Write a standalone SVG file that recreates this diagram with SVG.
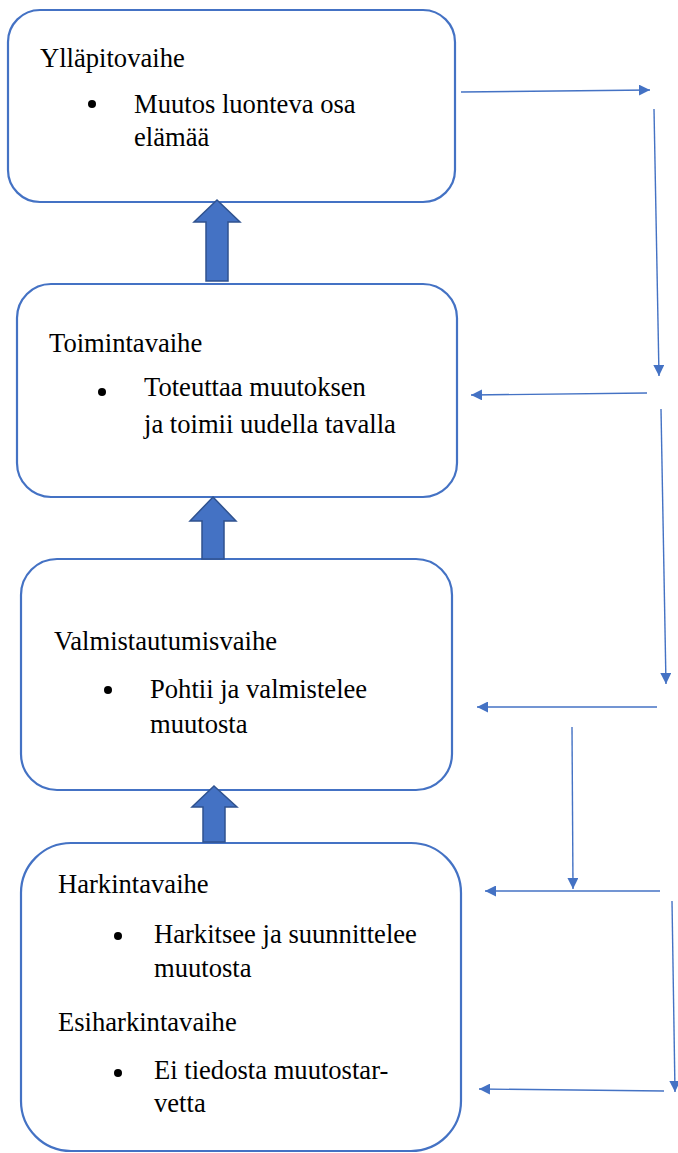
<svg xmlns="http://www.w3.org/2000/svg" width="678" height="1153" viewBox="0 0 678 1153">
<defs>
<marker id="ah" viewBox="0 0 10 10" refX="10" refY="5" markerWidth="11" markerHeight="11" markerUnits="userSpaceOnUse" orient="auto"><path d="M0,0 L10,5 L0,10 Z" fill="#4472C4"/></marker>
</defs>
<style>
.box{fill:#fff;stroke:#4472C4;stroke-width:2.2}
.blk{fill:#4472C4;stroke:#2F528F;stroke-width:1.5}
.c{stroke:#4472C4;stroke-width:1.4;fill:none;marker-end:url(#ah)}
text{font-family:'Liberation Serif','Times New Roman',serif;font-size:26.6px;fill:#000}
</style>
<rect width="678" height="1153" fill="#fff"/>
<g id="n1">
<rect class="box" x="8" y="10" width="447" height="192" rx="32"/>
<text x="40" y="67">Ylläpitovaihe</text>
<circle cx="92" cy="104" r="4"/>
<text x="134" y="113">Muutos luonteva osa</text>
<text x="134" y="146">elämää</text>
</g>
<g id="n2">
<rect class="box" x="17" y="284" width="440" height="213" rx="34"/>
<text x="49" y="352">Toimintavaihe</text>
<circle cx="102" cy="392" r="4"/>
<text x="144" y="396">Toteuttaa muutoksen</text>
<text x="144" y="433">ja toimii uudella tavalla</text>
</g>
<g id="n3">
<rect class="box" x="21" y="559" width="431" height="231" rx="36"/>
<text x="54" y="650">Valmistautumisvaihe</text>
<circle cx="108" cy="690" r="4"/>
<text x="150" y="698">Pohtii ja valmistelee</text>
<text x="150" y="733">muutosta</text>
</g>
<g id="n4">
<rect class="box" x="21" y="843" width="440" height="308" rx="50"/>
<text x="58" y="893">Harkintavaihe</text>
<circle cx="118" cy="936" r="4"/>
<text x="154" y="943">Harkitsee ja suunnittelee</text>
<text x="154" y="977">muutosta</text>
<text x="58" y="1031">Esiharkintavaihe</text>
<circle cx="118" cy="1073" r="4"/>
<text x="154" y="1079">Ei tiedosta muutostar-</text>
<text x="154" y="1112">vetta</text>
</g>
<g id="blockarrows">
<path class="blk" d="M217,200 L240,222 L228,222 L228,281 L206,281 L206,222 L194,222 Z"/>
<path class="blk" d="M213,497 L236,521 L224,521 L224,559 L202,559 L202,521 L190,521 Z"/>
<path class="blk" d="M214,786 L237,807 L225,807 L225,842 L203,842 L203,807 L192,807 Z"/>
</g>
<g id="connectors">
<line class="c" x1="461" y1="92" x2="650" y2="90"/>
<line class="c" x1="654" y1="109" x2="659" y2="376"/>
<line class="c" x1="647" y1="393" x2="471" y2="395"/>
<line class="c" x1="661" y1="409" x2="666" y2="684"/>
<line class="c" x1="657" y1="707" x2="477" y2="707"/>
<line class="c" x1="572" y1="727" x2="573" y2="889"/>
<line class="c" x1="660" y1="891" x2="485" y2="891"/>
<line class="c" x1="672" y1="901" x2="675" y2="1092"/>
<line class="c" x1="664" y1="1091" x2="479" y2="1089"/>
</g>
</svg>
